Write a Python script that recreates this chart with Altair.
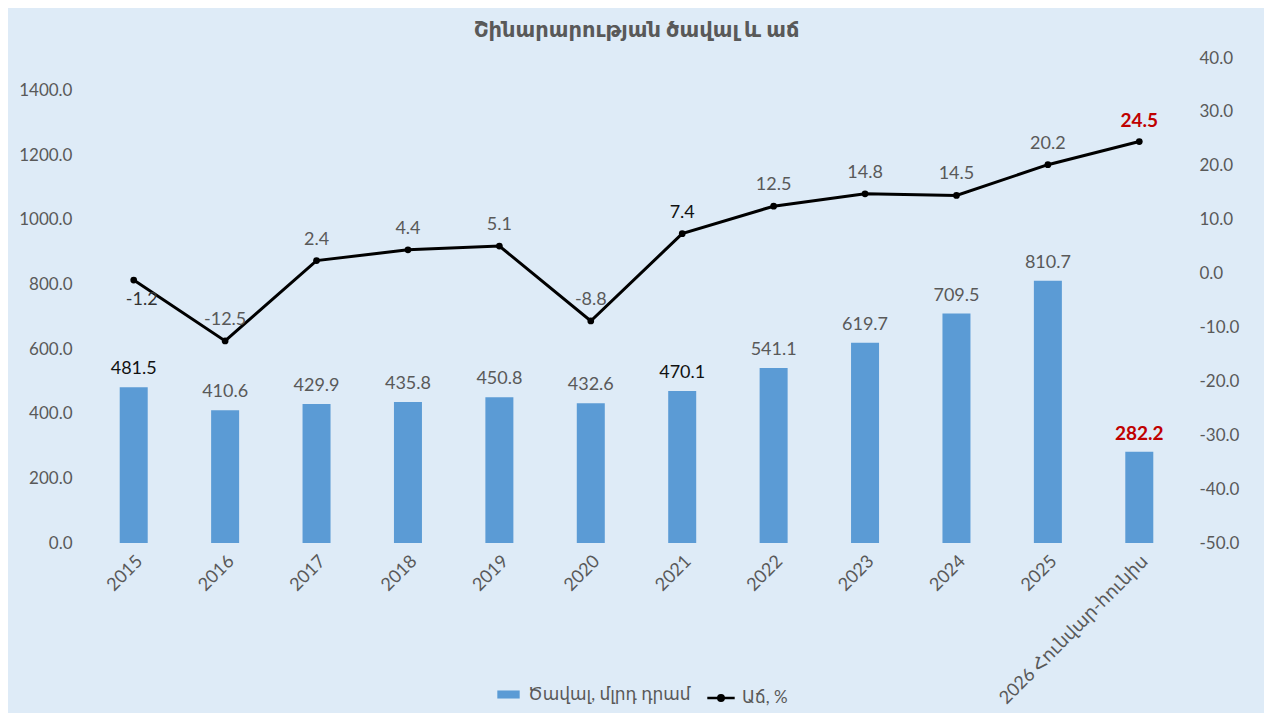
import altair as alt
import pandas as pd

categories = ["2015", "2016", "2017", "2018", "2019", "2020", "2021",
              "2022", "2023", "2024", "2025", "2026 Հունվար-հունիս"]
volume = [481.5, 410.6, 429.9, 435.8, 450.8, 432.6, 470.1,
          541.1, 619.7, 709.5, 810.7, 282.2]
growth = [-1.2, -12.5, 2.4, 4.4, 5.1, -8.8, 7.4,
          12.5, 14.8, 14.5, 20.2, 24.5]
series_volume = "Ծավալ, մլրդ դրամ"
series_growth = "Աճ, %"
title_text = "Շինարարության ծավալ և աճ"
left_ticks = [0, 200, 400, 600, 800, 1000, 1200, 1400]
right_ticks = [-50, -40, -30, -20, -10, 0, 10, 20, 30, 40]

df = pd.DataFrame({"year": categories, "volume": volume, "growth": growth,
                   "s1": series_volume, "s2": series_growth})

FONT = "Lato, 'DejaVu Sans', sans-serif"
GRAY = "#595959"
last = categories[-1]
HYPHEN = "replace(datum.label, '\u2212', '-')"

x = alt.X("year:N", sort=categories, title=None,
          scale=alt.Scale(paddingInner=0, paddingOuter=0),
          axis=alt.Axis(labelAngle=-45, labelAlign="right", labelBaseline="top",
                        labelFontSize=18, labelColor=GRAY, labelFont=FONT,
                        ticks=False, domain=False, labelPadding=9, labelLimit=300))

base = alt.Chart(df).encode(x=x).transform_calculate(
    vol_txt="format(datum.volume, '.1f')",
    gr_txt="replace(format(datum.growth, '.1f'), '\u2212', '-')",
)

yl = alt.Y("volume:Q", title=None,
           scale=alt.Scale(domain=[0, 1500], nice=False),
           axis=alt.Axis(values=left_ticks, format=".1f", grid=False, domain=False,
                         ticks=False, labelFontSize=17, labelColor=GRAY, labelFont=FONT,
                         labelPadding=16))
yr = alt.Y("growth:Q", title=None,
           scale=alt.Scale(domain=[-50, 40], nice=False),
           axis=alt.Axis(values=right_ticks, format=".1f", grid=False, domain=False,
                         ticks=False, labelFontSize=17, labelColor=GRAY, labelFont=FONT,
                         labelPadding=14, orient="right", labelExpr=HYPHEN))

bars = base.mark_bar(size=28).encode(
    y=yl,
    color=alt.Color("s1:N", scale=alt.Scale(range=["#5B9BD5"]),
                    legend=alt.Legend(title=None, orient="none", legendX=409, legendY=625,
                                      symbolType="M-1,-0.36H1V0.36H-1Z", symbolSize=500,
                                      symbolStrokeWidth=0, labelOffset=8, labelLimit=400,
                                      labelFont=FONT, labelFontSize=17, labelColor=GRAY)))

bar_text = base.mark_text(dy=-18, fontSize=18, font=FONT).encode(
    y="volume:Q", text="vol_txt:N",
    color=alt.when(alt.FieldOneOfPredicate(field="year", oneOf=["2015", "2021"]))
    .then(alt.value("#111111")).otherwise(alt.value(GRAY))
).transform_filter(alt.datum.year != last)

bar_text_last = base.mark_text(dy=-18, fontSize=19, font=FONT, fontWeight="bold",
                               color="#C00000").encode(
    y="volume:Q", text="vol_txt:N"
).transform_filter(alt.datum.year == last)

line = base.mark_line(strokeWidth=3, color="black").encode(
    y=yr,
    stroke=alt.Stroke("s2:N", scale=alt.Scale(range=["black"]),
                      legend=alt.Legend(title=None, orient="none", legendX=618, legendY=625,
                                        symbolType="M-1,0H1M-0.2,0A0.2,0.2,0,1,1,0.2,0A0.2,0.2,0,1,1,-0.2,0Z",
                                        symbolSize=750, symbolStrokeWidth=2.5,
                                        symbolFillColor="black", labelOffset=6,
                                        labelFont=FONT, labelFontSize=17, labelColor=GRAY)))

pts = base.mark_point(filled=True, size=45, color="black", opacity=1).encode(y="growth:Q")

line_text_above = base.mark_text(dy=-21, fontSize=18, font=FONT).encode(
    y="growth:Q", text="gr_txt:N",
    color=alt.when(alt.FieldOneOfPredicate(field="year", oneOf=["2021"]))
    .then(alt.value("#111111")).otherwise(alt.value(GRAY))
).transform_filter((alt.datum.year != last) & (alt.datum.year != "2015"))

line_text_below = base.mark_text(dy=20, dx=8, fontSize=18, font=FONT, color="#333333").encode(
    y="growth:Q", text="gr_txt:N"
).transform_filter(alt.datum.year == "2015")

line_text_last = base.mark_text(dy=-21, fontSize=19, font=FONT, fontWeight="bold",
                                color="#C00000").encode(
    y="growth:Q", text="gr_txt:N"
).transform_filter(alt.datum.year == last)

left_layer = alt.layer(bars, bar_text, bar_text_last)
right_layer = alt.layer(line, pts, line_text_above, line_text_below, line_text_last)

chart = alt.layer(left_layer, right_layer).resolve_scale(
    y="independent", color="independent", stroke="independent"
).properties(
    width=1097, height=485,
    autosize=alt.AutoSizeParams(type="none"),
    padding={"left": 80, "top": 50, "right": 79, "bottom": 170},
    title=alt.Title(title_text, font=FONT, fontSize=21, fontWeight="bold",
                    color=GRAY, offset=8, anchor="middle"),
    background="#DEEBF7",
).configure_view(stroke=None)

chart.save("out.html", embed_options={"renderer": "svg", "actions": False})
